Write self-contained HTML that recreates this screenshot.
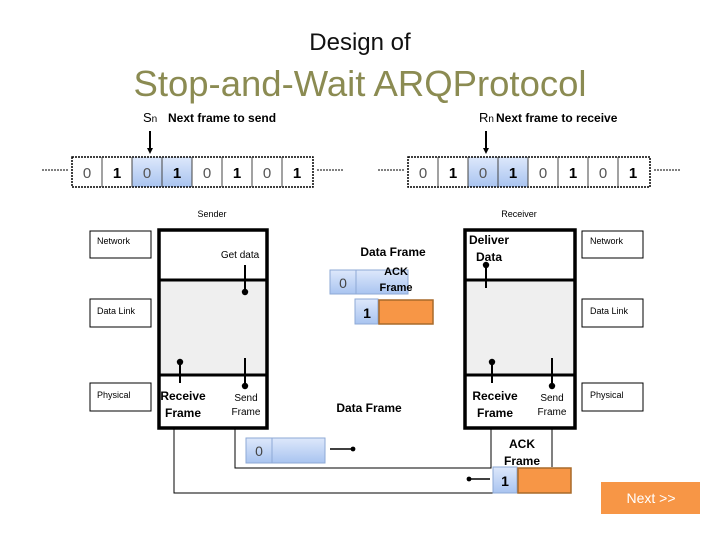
<!DOCTYPE html>
<html><head><style>
body{margin:0;width:720px;height:540px;background:#fff;position:relative;overflow:hidden;font-family:"Liberation Sans",sans-serif}
.a{position:absolute}
.t{position:absolute;white-space:nowrap}
</style></head><body>
<div class="t" style="left:0;width:720px;top:29px;text-align:center;font-size:24px;color:#111">Design of</div>
<div class="t" style="left:0;width:720px;top:63px;text-align:center;font-size:36.5px;color:#8b8b52">Stop-and-Wait ARQProtocol</div>
<svg class="a" style="left:0;top:0" width="720" height="540">
<defs><marker id="ar" markerWidth="6" markerHeight="6" refX="3" refY="3" orient="auto"><circle cx="3" cy="3" r="1.6" fill="#000"/></marker>
<linearGradient id="bl" x1="0" y1="0" x2="0" y2="1"><stop offset="0" stop-color="#dde8fb"/><stop offset="1" stop-color="#a9c4f0"/></linearGradient></defs>
<g font-family="Liberation Sans" font-size="15" text-anchor="middle">
<line x1="42" y1="170" x2="68" y2="170" stroke="#000" stroke-dasharray="2,1"/>
<line x1="317" y1="170" x2="343" y2="170" stroke="#000" stroke-dasharray="2,1"/>
<rect x="132" y="157" width="60" height="30" fill="url(#bl)"/>
<rect x="72" y="157" width="241" height="30" fill="none" stroke="#000" stroke-width="1.5" stroke-dasharray="2,1"/>
<g stroke="#444"><line x1="102" y1="157" x2="102" y2="187"/><line x1="132" y1="157" x2="132" y2="187"/><line x1="162" y1="157" x2="162" y2="187"/><line x1="192" y1="157" x2="192" y2="187"/><line x1="222" y1="157" x2="222" y2="187"/><line x1="252" y1="157" x2="252" y2="187"/><line x1="282" y1="157" x2="282" y2="187"/></g>
<text x="87" y="178" fill="#555">0</text><text x="117" y="178" font-weight="bold">1</text><text x="147" y="178" fill="#555">0</text><text x="177" y="178" font-weight="bold">1</text><text x="207" y="178" fill="#555">0</text><text x="237" y="178" font-weight="bold">1</text><text x="267" y="178" fill="#555">0</text><text x="297" y="178" font-weight="bold">1</text>
<line x1="378" y1="170" x2="404" y2="170" stroke="#000" stroke-dasharray="2,1"/>
<line x1="654" y1="170" x2="680" y2="170" stroke="#000" stroke-dasharray="2,1"/>
<rect x="468" y="157" width="60" height="30" fill="url(#bl)"/>
<rect x="408" y="157" width="242" height="30" fill="none" stroke="#000" stroke-width="1.5" stroke-dasharray="2,1"/>
<g stroke="#444"><line x1="438" y1="157" x2="438" y2="187"/><line x1="468" y1="157" x2="468" y2="187"/><line x1="498" y1="157" x2="498" y2="187"/><line x1="528" y1="157" x2="528" y2="187"/><line x1="558" y1="157" x2="558" y2="187"/><line x1="588" y1="157" x2="588" y2="187"/><line x1="618" y1="157" x2="618" y2="187"/></g>
<text x="423" y="178" fill="#555">0</text><text x="453" y="178" font-weight="bold">1</text><text x="483" y="178" fill="#555">0</text><text x="513" y="178" font-weight="bold">1</text><text x="543" y="178" fill="#555">0</text><text x="573" y="178" font-weight="bold">1</text><text x="603" y="178" fill="#555">0</text><text x="633" y="178" font-weight="bold">1</text>
</g>
<g font-family="Liberation Sans">
<line x1="150" y1="131" x2="150" y2="150" stroke="#000" stroke-width="2"/><path d="M147 148 L150 154 L153 148Z"/>
<line x1="486" y1="131" x2="486" y2="150" stroke="#000" stroke-width="2"/><path d="M483 148 L486 154 L489 148Z"/>
<text x="143" y="122" font-size="13">S<tspan font-size="10">n</tspan></text>
<text x="168" y="122" font-size="12" font-weight="bold">Next frame to send</text>
<text x="479" y="122" font-size="13">R<tspan font-size="10">n</tspan></text>
<text x="496" y="122" font-size="12" font-weight="bold">Next frame to receive</text>
<text x="212" y="217" font-size="9" text-anchor="middle">Sender</text>
<text x="519" y="217" font-size="9" text-anchor="middle">Receiver</text>
<rect x="159" y="280" width="108" height="95" fill="#efefef"/>
<rect x="159" y="230" width="108" height="198" fill="none" stroke="#000" stroke-width="3.5"/>
<line x1="159" y1="280" x2="267" y2="280" stroke="#000" stroke-width="3"/><line x1="159" y1="375" x2="267" y2="375" stroke="#000" stroke-width="3"/>
<rect x="90" y="231" width="61" height="27" fill="#fff" stroke="#000"/><rect x="90" y="299" width="61" height="28" fill="#fff" stroke="#000"/><rect x="90" y="383" width="61" height="28" fill="#fff" stroke="#000"/>
<text x="97" y="244" font-size="9">Network</text><text x="97" y="314" font-size="9">Data Link</text><text x="97" y="398" font-size="9">Physical</text>
<text x="240" y="258" font-size="10" text-anchor="middle">Get data</text>
<line x1="245" y1="265" x2="245" y2="292" stroke="#000" stroke-width="2" marker-end="url(#ar)"/>
<line x1="180" y1="383" x2="180" y2="362" stroke="#000" stroke-width="2" marker-end="url(#ar)"/>
<line x1="245" y1="358" x2="245" y2="386" stroke="#000" stroke-width="2" marker-end="url(#ar)"/>
<text x="183" y="400" font-size="12" font-weight="bold" text-anchor="middle">Receive</text><text x="183" y="417" font-size="12" font-weight="bold" text-anchor="middle">Frame</text>
<text x="246" y="401" font-size="10" text-anchor="middle">Send</text><text x="246" y="415" font-size="10" text-anchor="middle">Frame</text>
<rect x="465" y="280" width="110" height="95" fill="#efefef"/>
<rect x="465" y="230" width="110" height="198" fill="none" stroke="#000" stroke-width="3.5"/>
<line x1="465" y1="280" x2="575" y2="280" stroke="#000" stroke-width="3"/><line x1="465" y1="375" x2="575" y2="375" stroke="#000" stroke-width="3"/>
<rect x="582" y="231" width="61" height="27" fill="#fff" stroke="#000"/><rect x="582" y="299" width="61" height="28" fill="#fff" stroke="#000"/><rect x="582" y="383" width="61" height="28" fill="#fff" stroke="#000"/>
<text x="590" y="244" font-size="9">Network</text><text x="590" y="314" font-size="9">Data Link</text><text x="590" y="398" font-size="9">Physical</text>
<text x="469" y="244" font-size="12" font-weight="bold">Deliver</text><text x="476" y="261" font-size="12" font-weight="bold">Data</text>
<line x1="486" y1="288" x2="486" y2="265" stroke="#000" stroke-width="2" marker-end="url(#ar)"/>
<line x1="492" y1="383" x2="492" y2="362" stroke="#000" stroke-width="2" marker-end="url(#ar)"/>
<line x1="552" y1="358" x2="552" y2="386" stroke="#000" stroke-width="2" marker-end="url(#ar)"/>
<text x="495" y="400" font-size="12" font-weight="bold" text-anchor="middle">Receive</text><text x="495" y="417" font-size="12" font-weight="bold" text-anchor="middle">Frame</text>
<text x="552" y="401" font-size="10" text-anchor="middle">Send</text><text x="552" y="415" font-size="10" text-anchor="middle">Frame</text>
<text x="393" y="256" font-size="12" font-weight="bold" text-anchor="middle">Data Frame</text>
<rect x="330" y="270" width="78" height="24" fill="url(#bl)" stroke="#8ea9d6"/><line x1="356" y1="270" x2="356" y2="294" stroke="#8ea9d6"/>
<text x="343" y="288" font-size="14" fill="#444" text-anchor="middle">0</text>
<text x="396" y="275" font-size="11" font-weight="bold" text-anchor="middle">ACK</text><text x="396" y="291" font-size="11" font-weight="bold" text-anchor="middle">Frame</text>
<rect x="355" y="299" width="23" height="25" fill="url(#bl)" stroke="#8ea9d6"/>
<rect x="379" y="300" width="54" height="24" fill="#f79646" stroke="#a86a2a" stroke-width="1.5"/>
<text x="367" y="318" font-size="14" font-weight="bold" text-anchor="middle">1</text>
<text x="369" y="412" font-size="12" font-weight="bold" text-anchor="middle">Data Frame</text>
<polyline points="174,429 174,493 493,493" fill="none" stroke="#000"/>
<polyline points="235,429 235,468 491,468 491,429" fill="none" stroke="#000"/>
<line x1="552" y1="429" x2="552" y2="467" stroke="#000"/>
<rect x="246" y="438" width="79" height="25" fill="url(#bl)" stroke="#8ea9d6"/><line x1="272" y1="438" x2="272" y2="463" stroke="#8ea9d6"/>
<text x="259" y="456" font-size="14" fill="#444" text-anchor="middle">0</text>
<line x1="330" y1="449" x2="353" y2="449" stroke="#000" stroke-width="1.5" marker-end="url(#ar)"/>
<text x="522" y="448" font-size="12" font-weight="bold" text-anchor="middle">ACK</text><text x="522" y="465" font-size="12" font-weight="bold" text-anchor="middle">Frame</text>
<rect x="493" y="467" width="24" height="26" fill="url(#bl)" stroke="#8ea9d6"/>
<rect x="518" y="468" width="53" height="25" fill="#f79646" stroke="#a86a2a" stroke-width="1.5"/>
<text x="505" y="486" font-size="14" font-weight="bold" text-anchor="middle">1</text>
<line x1="490" y1="479" x2="469" y2="479" stroke="#000" stroke-width="1.5" marker-end="url(#ar)"/>
<rect x="601" y="482" width="99" height="32" fill="#f79646"/>
<text x="651" y="503" font-size="14" fill="#fff" text-anchor="middle">Next &gt;&gt;</text>
</g>
</svg>
</body></html>
